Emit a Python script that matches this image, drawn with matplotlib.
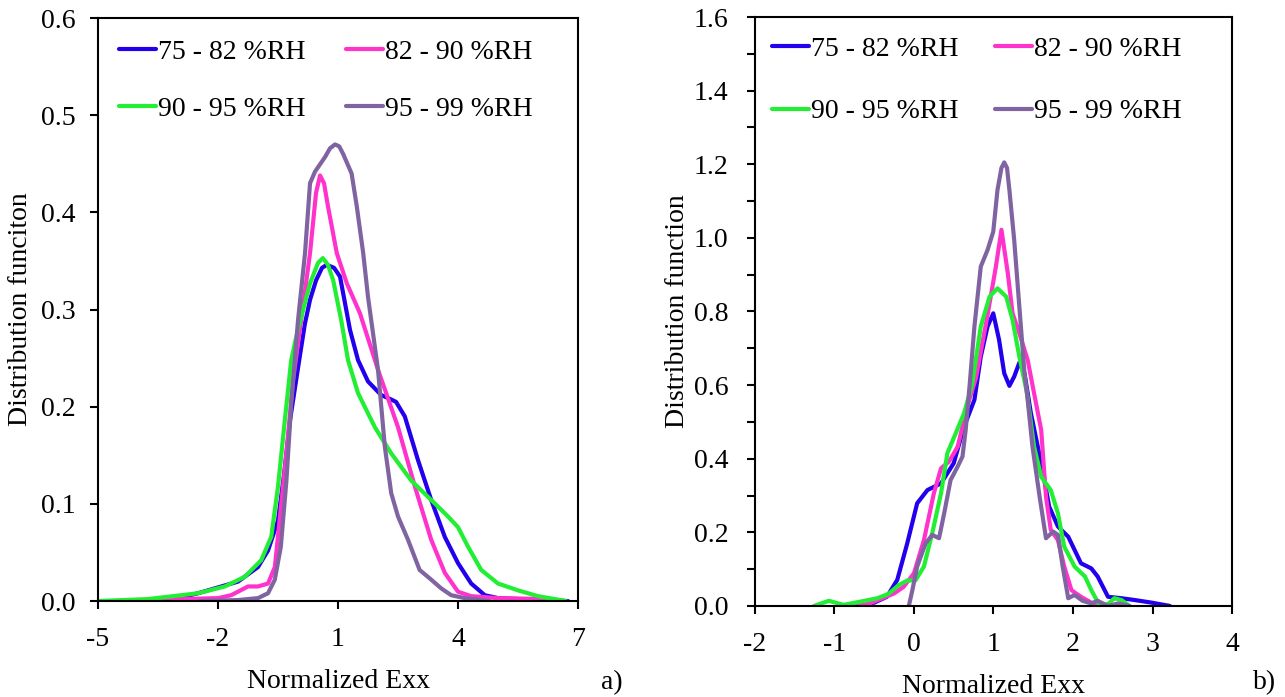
import matplotlib
matplotlib.use("Agg")
import matplotlib.pyplot as plt
from matplotlib.ticker import MultipleLocator, FormatStrFormatter

plt.rcParams['font.family'] = ['Liberation Serif', 'DejaVu Serif']
plt.rcParams['font.size'] = 20
plt.rcParams['axes.unicode_minus'] = False

labels = ['75 - 82 %RH', '82 - 90 %RH', '90 - 95 %RH', '95 - 99 %RH']
colors = ['#2200EE', '#FF33CC', '#22EE33', '#8064A2']

# panel a)
a_x_75 = [-4.2, -3.0, -2.5, -1.5, -1.0, -0.75, -0.5, -0.35, -0.2, 0.0, 0.17, 0.3, 0.45, 0.6, 0.72, 0.9,
          1.05, 1.3, 1.5, 1.75, 2.08, 2.3, 2.45, 2.67, 3.0, 3.33, 3.67, 4.0, 4.33, 4.67, 5.0, 6.0, 6.75]
a_y_75 = [0.0, 0.003, 0.008, 0.02, 0.035, 0.052, 0.083, 0.13, 0.186, 0.24, 0.285, 0.31, 0.33, 0.343,
          0.346, 0.343, 0.334, 0.279, 0.248, 0.226, 0.212, 0.208, 0.205, 0.19, 0.145, 0.104, 0.066, 0.039,
          0.018, 0.006, 0.003, 0.001, 0.0]
a_x_82 = [-4.5, -3.75, -2.0, -1.67, -1.25, -1.0, -0.75, -0.58, -0.46, -0.29, -0.125, 0.08, 0.3,
          0.45, 0.55, 0.65, 0.75, 0.97, 1.22, 1.55, 2.0, 2.5, 2.92, 3.33, 3.67, 4.0, 4.33, 5.0, 6.25, 6.5]
a_y_82 = [0.0, 0.001, 0.003, 0.006, 0.015, 0.015, 0.018, 0.035, 0.083, 0.152, 0.227, 0.29, 0.358,
          0.42, 0.438, 0.43, 0.406, 0.358, 0.327, 0.296, 0.238, 0.179, 0.118, 0.063, 0.029, 0.0096, 0.005,
          0.003, 0.002, 0.0]
a_x_90 = [-5.0, -3.75, -2.5, -1.83, -1.33, -0.92, -0.67, -0.5, -0.33, -0.17, 0.0, 0.3, 0.5, 0.62,
          0.75, 0.88, 1.08, 1.25, 1.5, 1.92, 2.33, 2.83, 3.33, 3.75, 4.0, 4.25, 4.58, 5.0, 5.5, 6.0, 6.7]
a_y_90 = [0.0, 0.002, 0.008, 0.015, 0.025, 0.042, 0.066, 0.118, 0.186, 0.248, 0.28, 0.327, 0.348, 0.353,
          0.346, 0.33, 0.289, 0.248, 0.214, 0.179, 0.152, 0.124, 0.104, 0.087, 0.076, 0.056, 0.032, 0.018,
          0.011, 0.005, 0.0]
a_x_95 = [-2.46, -1.5, -1.0, -0.75, -0.58, -0.43, -0.29, -0.17, 0.0, 0.175, 0.3, 0.425, 0.675,
          0.8, 0.925, 1.03, 1.13, 1.34, 1.47, 1.63, 1.75, 1.83, 2.0, 2.17, 2.33, 2.5, 2.75, 3.04, 3.33, 3.58,
          3.83, 4.17, 4.79]
a_y_95 = [0.0, 0.001, 0.003, 0.008, 0.022, 0.056, 0.124, 0.203, 0.289, 0.358, 0.43, 0.442, 0.457,
          0.466, 0.47, 0.468, 0.46, 0.44, 0.406, 0.358, 0.313, 0.289, 0.238, 0.159, 0.111, 0.087, 0.063, 0.032,
          0.022, 0.013, 0.006, 0.003, 0.0]

# panel b)
b_x_75 = [-0.67, -0.5, -0.34, -0.21, -0.085, 0.04, 0.17, 0.34, 0.5, 0.63, 0.76, 0.84, 0.925, 0.997,
          1.07, 1.135, 1.2, 1.26, 1.325, 1.39, 1.47, 1.6, 1.7, 1.81, 1.94, 2.1, 2.23, 2.31, 2.44, 2.61,
          2.78, 2.99, 3.22]
b_y_75 = [0.0, 0.009, 0.025, 0.071, 0.17, 0.279, 0.315, 0.333, 0.388, 0.487, 0.56, 0.677, 0.759, 0.795,
          0.723, 0.632, 0.598, 0.623, 0.661, 0.632, 0.524, 0.388, 0.27, 0.216, 0.188, 0.116, 0.102, 0.08, 0.025,
          0.021, 0.016, 0.009, 0.0]
b_x_82 = [-0.84, -0.6, -0.25, -0.13, 0.0, 0.125, 0.25, 0.34, 0.44, 0.55, 0.67, 0.78, 0.925, 1.03, 1.1,
          1.18, 1.24, 1.325, 1.43, 1.51, 1.6, 1.66, 1.72, 1.81, 1.89, 1.98, 2.1, 2.23, 2.29]
b_y_82 = [0.0, 0.003, 0.034, 0.052, 0.089, 0.179, 0.306, 0.374, 0.392, 0.433, 0.542, 0.62, 0.79, 0.922, 1.022,
          0.904, 0.795, 0.741, 0.668, 0.578, 0.478, 0.297, 0.207, 0.179, 0.107, 0.043, 0.025, 0.009, 0.0]
b_x_90 = [-1.26, -1.07, -0.885, -0.67, -0.46, -0.32, -0.19, -0.085, 0.02, 0.125, 0.23, 0.34, 0.42, 0.525,
          0.63, 0.73, 0.84, 0.95, 1.05, 1.16, 1.24, 1.325, 1.42, 1.51, 1.6, 1.72, 1.81, 1.89, 2.02, 2.15,
          2.23, 2.33, 2.44, 2.52, 2.61, 2.71]
b_y_90 = [0.0, 0.014, 0.003, 0.012, 0.021, 0.033, 0.057, 0.069, 0.07, 0.107, 0.198, 0.306, 0.415, 0.469,
          0.524, 0.6, 0.759, 0.84, 0.863, 0.84, 0.777, 0.677, 0.58, 0.433, 0.351, 0.315, 0.252, 0.161, 0.107, 0.08,
          0.043, 0.003, 0.005, 0.021, 0.016, 0.0]
b_x_95 = [-0.065, -0.02, 0.04, 0.146, 0.23, 0.315, 0.38, 0.46, 0.55, 0.61, 0.65, 0.7, 0.76, 0.84, 0.925,
          0.997, 1.05, 1.1, 1.135, 1.17, 1.2, 1.26, 1.325, 1.39, 1.43, 1.49, 1.58, 1.66, 1.75, 1.81, 1.87, 1.94,
          2.02, 2.12, 2.23, 2.31, 2.44, 2.57, 2.71]
b_y_95 = [0.0, 0.043, 0.107, 0.17, 0.193, 0.184, 0.252, 0.342, 0.379, 0.406, 0.478, 0.6, 0.759, 0.922, 0.967,
          1.017, 1.13, 1.19, 1.205, 1.19, 1.13, 0.995, 0.813, 0.632, 0.56, 0.433, 0.297, 0.184, 0.202, 0.193,
          0.107, 0.021, 0.03, 0.014, 0.007, 0.014, 0.0, 0.007, 0.0]

fig = plt.figure(figsize=(12.85, 6.97), dpi=100)
ax1 = fig.add_axes([0.0763, 0.1377, 0.3735, 0.8363])
ax2 = fig.add_axes([0.5875, 0.1306, 0.3713, 0.845])

for ax, xs, ys in [(ax1, [a_x_75, a_x_82, a_x_90, a_x_95], [a_y_75, a_y_82, a_y_90, a_y_95]),
                   (ax2, [b_x_75, b_x_82, b_x_90, b_x_95], [b_y_75, b_y_82, b_y_90, b_y_95])]:
    for x, y, c, lab in zip(xs, ys, colors, labels):
        ax.plot(x, y, color=c, lw=3, label=lab, solid_joinstyle='round', solid_capstyle='round')
    for s in ax.spines.values():
        s.set_linewidth(1.5)
    ax.tick_params(direction='out', length=6, width=1.5, labelsize=20, top=False, right=False)
    ax.tick_params(axis='x', pad=13)
    ax.tick_params(which='minor', direction='out', length=6, width=1.5)
    ax.yaxis.set_major_formatter(FormatStrFormatter('%.1f'))
    ax.set_xlabel('Normalized Exx', fontsize=20, labelpad=12)

ax1.set_xlim(-5, 7)
ax1.set_ylim(0, 0.6)
ax1.set_xticks([-5, -2, 1, 4, 7])
ax1.yaxis.set_major_locator(MultipleLocator(0.1))
ax1.tick_params(axis='y', pad=10)
ax1.set_ylabel('Distribution funciton', fontsize=20, labelpad=6)

ax2.set_xlim(-2, 4)
ax2.set_ylim(0, 1.6)
ax2.xaxis.set_major_locator(MultipleLocator(1))
ax2.yaxis.set_major_locator(MultipleLocator(0.2))
ax2.yaxis.set_minor_locator(MultipleLocator(0.1))
ax2.tick_params(axis='y', pad=13)
ax2.set_ylabel('Distribution function', fontsize=20, labelpad=3)

# legend fills column-wise, so reorder to get 75/82 on the first row
order = [0, 2, 1, 3]
for ax, anchor, colsp, labsp in [(ax1, (0.044, 0.963), 1.44, 1.13), (ax2, (0.036, 0.967), 1.3, 1.33)]:
    h, l = ax.get_legend_handles_labels()
    ax.legend([h[i] for i in order], [l[i] for i in order], loc='upper left', bbox_to_anchor=anchor,
              ncol=2, frameon=False, fontsize=20, handlelength=1.33, handletextpad=0.08,
              columnspacing=colsp, labelspacing=labsp, borderpad=0, borderaxespad=0)

fig.text(612 / 1285, 1 - 683 / 697, 'a)', fontsize=20, ha='center', va='center')
fig.text(1265 / 1285, 1 - 683 / 697, 'b)', fontsize=20, ha='center', va='center')

fig.savefig('out.png', dpi=100)
